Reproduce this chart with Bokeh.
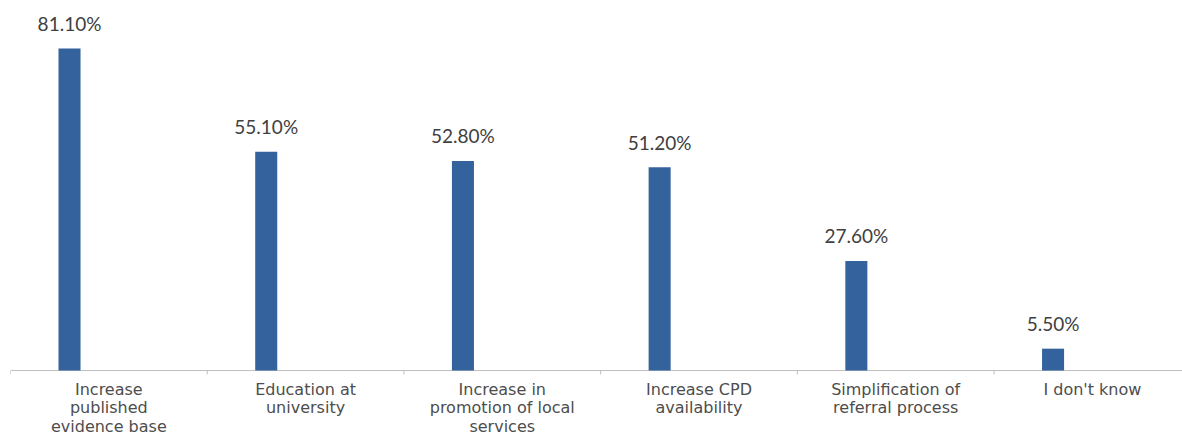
from bokeh.plotting import figure
from bokeh.models import Range1d, ColumnDataSource
from bokeh.core.properties import value
from bokeh.embed import file_html
from bokeh.resources import INLINE

categories = [
    "Increase\npublished\nevidence base",
    "Education at\nuniversity",
    "Increase in\npromotion of local\nservices",
    "Increase CPD\navailability",
    "Simplification of\nreferral process",
    "I don't know",
]
values = [81.1, 55.1, 52.8, 51.2, 27.6, 5.5]
value_labels = ["81.10%", "55.10%", "52.80%", "51.20%", "27.60%", "5.50%"]

n = len(categories)
centers = [i + 0.5 for i in range(n)]
bar_x = [c - 0.2 for c in centers]
x_end = 5.958

src = ColumnDataSource(dict(x=bar_x, top=values, lab=value_labels))
cat_src = ColumnDataSource(dict(x=centers, y=[0] * n, lab=categories))

p = figure(width=1182, height=436, output_backend="svg", toolbar_location=None,
           x_range=Range1d(0, x_end), y_range=Range1d(-16.62, 93.2),
           min_border_left=10, min_border_right=0, min_border_top=0,
           min_border_bottom=0, x_axis_location=None, y_axis_location=None)
p.outline_line_color = None
p.xgrid.visible = False
p.ygrid.visible = False
p.background_fill_color = "white"
p.border_fill_color = "white"

# category axis line and boundary ticks (drawn through data scales)
p.segment(x0=[0], y0=[0], x1=[x_end], y1=[0], line_color="#bfbfbf", line_width=1)
bounds = list(range(n + 1))
p.segment(x0=bounds, y0=[0] * len(bounds), x1=bounds, y1=[-1.0] * len(bounds),
          line_color="#bfbfbf", line_width=1)

p.vbar(x="x", top="top", bottom=0, width=0.112, source=src,
       fill_color="#34629c", line_color=None)

p.text(x="x", y="top", text="lab", source=src, y_offset=-25,
       text_align="center", text_baseline="alphabetic",
       text_font=value("Lato"), text_font_size="19px", text_color="#404040")

p.text(x="x", y="y", text="lab", source=cat_src, y_offset=9,
       text_align="center", text_baseline="top",
       text_font=value("DejaVu Sans"), text_font_size="16px",
       text_color="#4d4d4d", text_line_height=0.98)

open("out.html", "w").write(file_html(p, INLINE))
